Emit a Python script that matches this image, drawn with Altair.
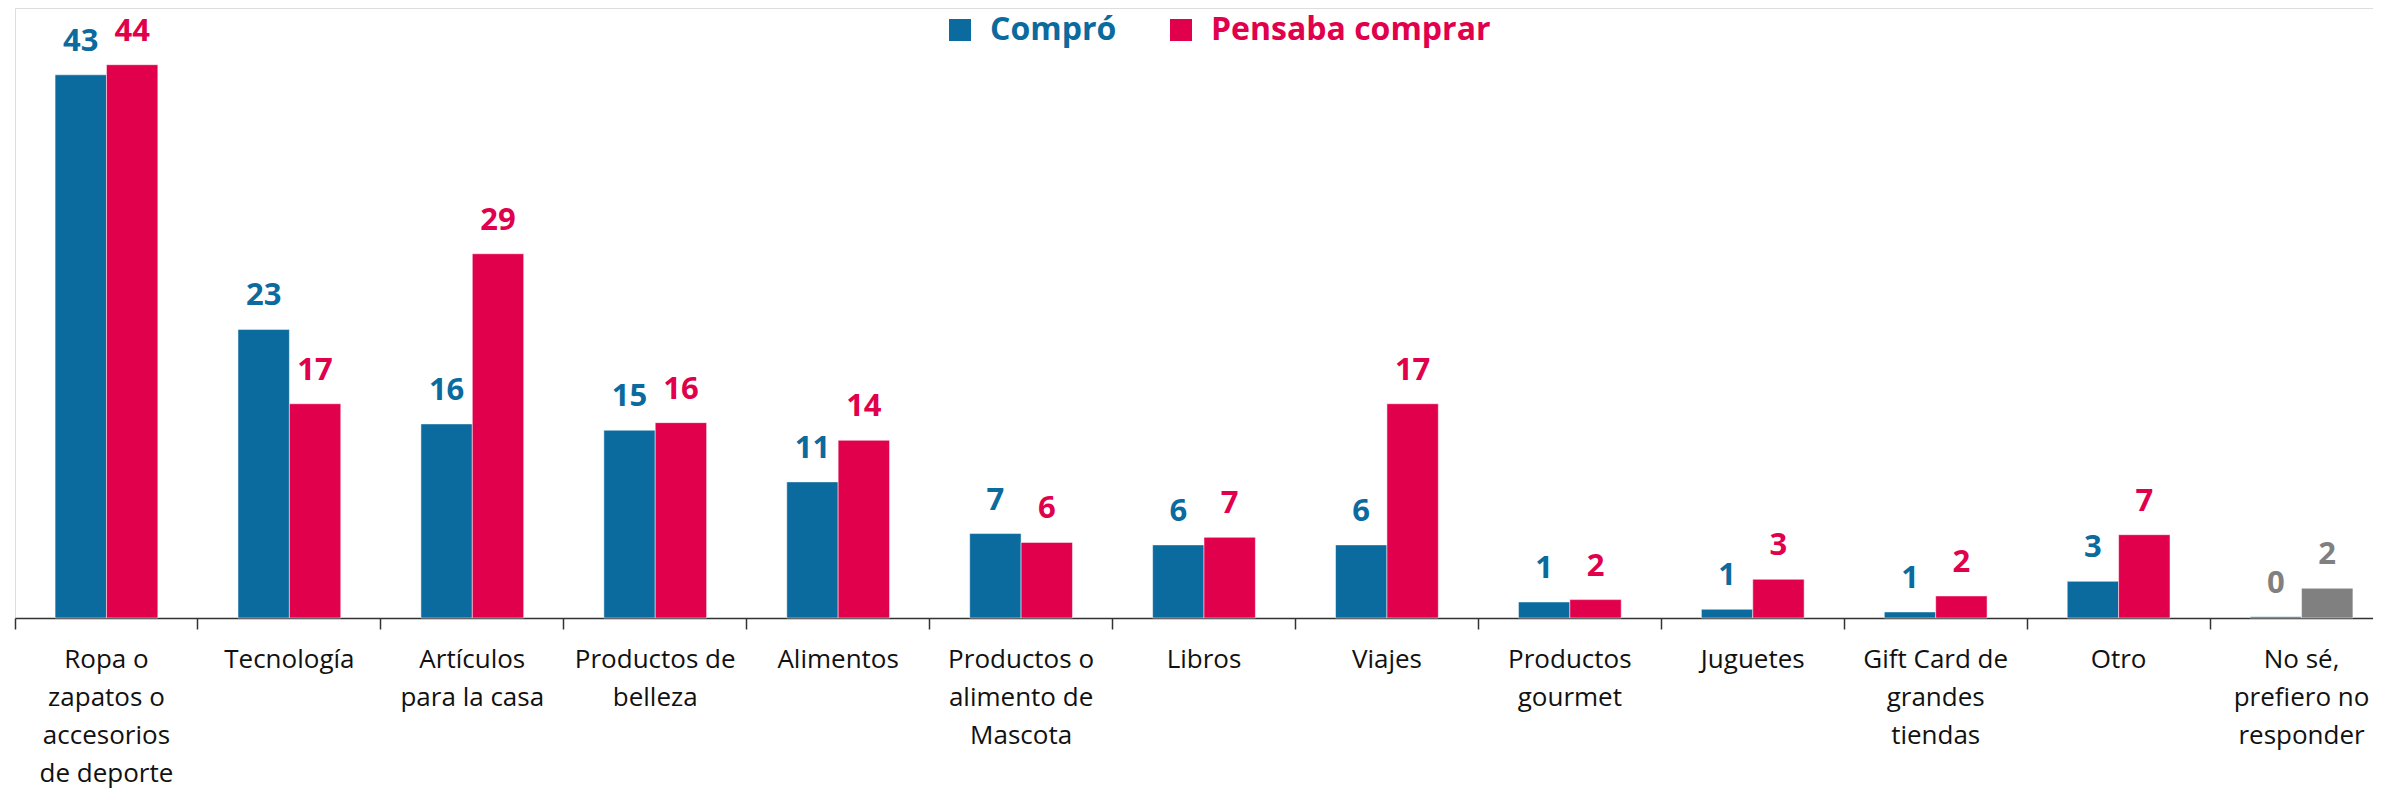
import altair as alt
import pandas as pd

categorias = [
    "Ropa o\nzapatos o\naccesorios\nde deporte",
    "Tecnología",
    "Artículos\npara la casa",
    "Productos de\nbelleza",
    "Alimentos",
    "Productos o\nalimento de\nMascota",
    "Libros",
    "Viajes",
    "Productos\ngourmet",
    "Juguetes",
    "Gift Card de\ngrandes\ntiendas",
    "Otro",
    "No sé,\nprefiero no\nresponder",
]
series = ["Compró", "Pensaba comprar"]
compro = [43.1, 22.9, 15.4, 14.9, 10.8, 6.7, 5.8, 5.8, 1.27, 0.69, 0.48, 2.91, 0.1]
pensaba = [43.9, 17.0, 28.9, 15.5, 14.1, 6.0, 6.4, 17.0, 1.46, 3.07, 1.75, 6.61, 2.36]
etiq_compro = [43, 23, 16, 15, 11, 7, 6, 6, 1, 1, 1, 3, 0]
etiq_pensaba = [44, 17, 29, 16, 14, 6, 7, 17, 2, 3, 2, 7, 2]

AZUL = "#0B6A9E"
ROSA = "#E1004C"
GRIS = "#808080"
FUENTE = "Open Sans"

rows = []
for i, c in enumerate(categorias):
    gris = i == len(categorias) - 1
    rows.append(dict(cat=c, serie=series[0], valor=compro[i], etiqueta=str(etiq_compro[i]), gris=gris, gris_barra=False))
    rows.append(dict(cat=c, serie=series[1], valor=pensaba[i], etiqueta=str(etiq_pensaba[i]), gris=gris, gris_barra=gris))
df = pd.DataFrame(rows)

color_scale = alt.Scale(domain=series, range=[AZUL, ROSA])

x = alt.X(
    "cat:N",
    sort=categorias,
    title=None,
    scale=alt.Scale(range=[0, 2378], paddingInner=0, paddingOuter=0),
    axis=alt.Axis(
        labelExpr="split(datum.label, '\\n')",
        labelAngle=0,
        labelFont=FUENTE,
        labelFontSize=26,
        labelLineHeight=38,
        labelColor="#111111",
        labelPadding=17,
        labelLimit=400,
        bandPosition=0,
        tickSize=11,
        tickColor="#333333",
        tickWidth=1.5,
        domainColor="#333333",
        domainWidth=1.5,
        grid=False,
    ),
)
y = alt.Y("valor:Q", scale=alt.Scale(domain=[0, 48.4]), axis=None)
xo = alt.XOffset("serie:N", sort=series, scale=alt.Scale(paddingInner=0, paddingOuter=0.78))

bars = alt.Chart(df).mark_bar(stroke="white", strokeWidth=0.5).encode(
    x=x,
    xOffset=xo,
    y=y,
    color=alt.condition(
        "datum.gris_barra",
        alt.value(GRIS),
        alt.Color(
            "serie:N",
            scale=color_scale,
            sort=series,
            legend=alt.Legend(
                title=None,
                orient="none",
                legendX=929,
                legendY=6,
                direction="horizontal",
                symbolType="square",
                symbolSize=484,
                symbolStrokeWidth=0,
                symbolOpacity=1,
                labelFont=FUENTE,
                labelFontSize=32,
                labelFontWeight="bold",
                labelOffset=14,
                labelLimit=600,
                columnPadding=48,
                padding=0,
                labelColor=alt.ExprRef("datum.label == 'Compró' ? '%s' : '%s'" % (AZUL, ROSA)),
            ),
        ),
    ),
)

labels = alt.Chart(df).mark_text(
    dy=-33, baseline="middle", align="center", fontSize=31, fontWeight="bold", font=FUENTE
).encode(
    x=x,
    xOffset=xo,
    y=y,
    text="etiqueta:N",
    color=alt.condition(
        "datum.gris",
        alt.value(GRIS),
        alt.Color("serie:N", scale=color_scale, legend=None),
    ),
)

chart = (
    alt.layer(bars, labels)
    .properties(
        width=2358,
        height=610,
        autosize=alt.AutoSizeParams(type="none"),
        padding={"left": 7, "top": 0, "right": 0, "bottom": 170},
    )
    .configure_view(stroke=None)
    .configure(background="white")
)

chart.save("out.html", embed_options={"renderer": "svg", "actions": False})
